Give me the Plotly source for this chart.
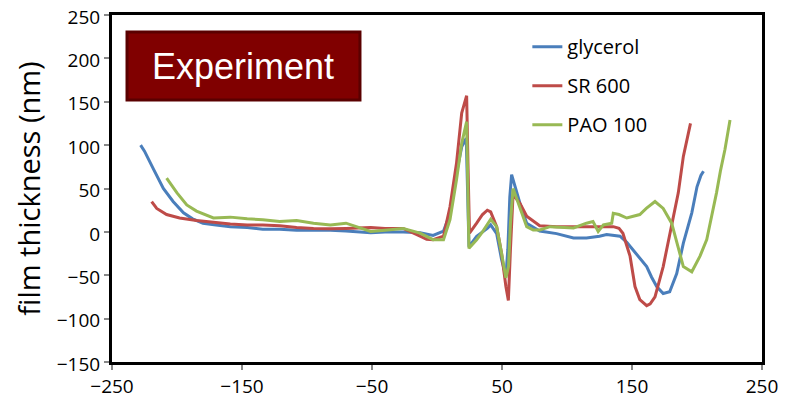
import plotly.graph_objects as go

# glycerol (blue)
gly_x = [-228, -225, -218, -210.5, -203, -195, -188, -180, -170, -159, -146, -134, -121, -108, -95, -82, -70, -51, -40, -26, -13, -3, 5, 10, 15, 19, 22.5, 24.6, 30.5, 38.7, 41.3, 45.9, 49.7, 53, 54.5, 56, 57.4, 60, 63.8, 69, 79, 92, 105, 115, 125, 130.5, 140.8, 146, 151, 156, 161.3, 165, 169, 174, 179, 184.4, 189.5, 196, 200, 203, 205]
gly_y = [100, 93, 72, 50, 35, 22, 15, 10, 8, 6, 5, 3, 3, 2, 2, 2, 1, -1, 0, 0, -1, -4, 1, 21, 68, 98, 108, -17, -5, 4, 8, -2, -32, -51, -20, 40, 66, 52, 33, 10, 1, -2, -7, -7, -5, -3, -5, -12, -21, -30, -40, -52, -63, -71, -69, -48, -13, 22, 52, 65, 70]

# SR 600 (red)
sr_x = [-219.5, -215.6, -208, -198, -185, -172, -159, -146, -134, -121, -108, -95, -82, -70, -51, -40, -26, -13, -8, -3, 5, 10, 15, 19, 22.8, 23.8, 25, 30.5, 35, 38.7, 41.3, 45.9, 49.7, 53, 54.9, 56.5, 58.5, 63.8, 69, 79, 92, 105, 120, 135.6, 140, 143, 148.5, 152.3, 156, 161.3, 164, 167.7, 174, 180.5, 185.6, 189.5, 193.3, 195]
sr_y = [35, 27, 20, 16, 13, 11, 9, 8, 8, 7, 5, 4, 3.5, 4, 5, 4, 4, -5, -8.5, -9, -5, 29, 79, 137, 157, 80, -1.5, 10, 20, 25, 23, 6, -25, -63, -79, -20, 43, 33, 18, 7, 6, 6, 6, 6, 4, -1.5, -28, -63, -78, -85, -83, -75, -40, 6, 45, 87, 114, 125]

# PAO 100 (green)
pao_x = [-208, -200, -192.5, -185, -172, -159, -146, -134, -121, -108, -95, -82, -70, -60, -51, -40, -26, -13, -3, 5, 10, 15, 19, 22.8, 24.6, 30.5, 35, 41.3, 45.9, 49.7, 53, 55, 56.5, 58.5, 63.8, 69, 74, 79, 87, 95, 105, 115, 120, 124, 128, 134.4, 135.6, 140, 146, 156, 161, 167.7, 174, 180.5, 185, 189.5, 196, 202.3, 207.5, 211, 215, 218, 221.5, 225.4]
pao_y = [62, 45, 31, 24, 16, 17, 15, 14, 12, 13, 10, 8, 10, 5, 0.4, 2, 4, -1.5, -9, -9, 14, 60, 102, 127, -19, -9, 0, 14.6, 6, -25, -53, -40, 10, 50, 29, 6, 2.3, 2.3, 6, 5, 4.6, 10, 12, 0.4, 8, 10, 21.5, 20, 16, 20, 27, 35, 27, 10, -15, -40, -46, -28, -9, 15, 45, 70, 95, 129]

x_ticks = [-250, -150, -50, 50, 150, 250]
y_ticks = [-150, -100, -50, 0, 50, 100, 150, 200, 250]

series = [
    ("glycerol", gly_x, gly_y, "#4a7ebb"),
    ("SR 600", sr_x, sr_y, "#be4b48"),
    ("PAO 100", pao_x, pao_y, "#98b954"),
]

fig = go.Figure()
for name, xs, ys, col in series:
    fig.add_trace(go.Scatter(x=xs, y=ys, mode="lines", name=name, legendgroup=name,
                             line=dict(color=col, width=3)))

axis_common = dict(showline=True, linecolor="black", linewidth=3, mirror=True,
                   ticks="outside", ticklen=5, tickcolor="#888", tickwidth=2,
                   showgrid=False, zeroline=False, automargin=False,
                   ticklabeloverflow="allow",
                   tickfont=dict(family="Open Sans", size=19, color="black"))

fig.update_xaxes(range=[-250, 250], tickvals=x_ticks, **axis_common)
fig.update_yaxes(range=[-150, 250], tickvals=y_ticks, ticklabelshift=2,
                 title=dict(text="film thickness (nm)", font=dict(family="Open Sans", size=29, color="black"), standoff=8),
                 **axis_common)

fig.add_shape(type="rect", xref="paper", yref="paper", x0=0.0231, x1=0.3815, y0=0.755, y1=0.951,
              fillcolor="#800000", line=dict(color="#5a0000", width=3), layer="above")
fig.add_annotation(xref="paper", yref="paper", x=0.2023, y=0.853, text="Experiment", showarrow=False,
                   font=dict(family="Liberation Sans", size=36, color="white"), xanchor="center", yanchor="middle")

fig.update_layout(
    width=790, height=398,
    margin=dict(l=104, r=36, t=7, b=44),
    plot_bgcolor="white", paper_bgcolor="white",
    legend=dict(x=0.639, y=0.965, xanchor="left", yanchor="top", bgcolor="rgba(0,0,0,0)",
                font=dict(family="Open Sans", size=20, color="black"), tracegroupgap=10),
    showlegend=True,
)

fig.write_html("out.html")
